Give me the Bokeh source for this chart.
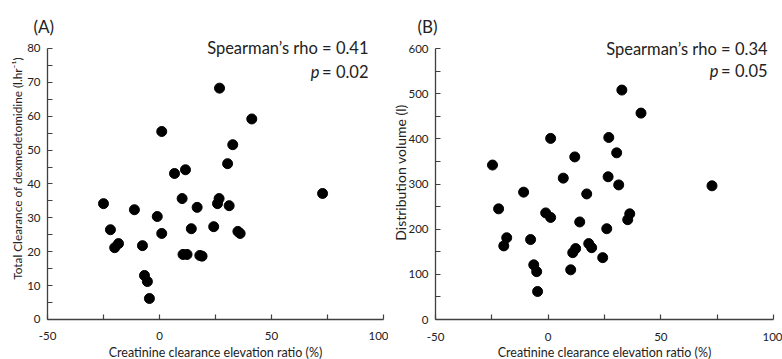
from math import pi
from bokeh.plotting import figure
from bokeh.models import Range1d, FixedTicker, Label
from bokeh.layouts import row
from bokeh.embed import file_html
from bokeh.resources import INLINE

FONT = "Lato"

# ---- Panel A data: creatinine clearance elevation ratio (%) vs total clearance (l/hr)
ccr_elevation_a = [-25.0, -21.9, -20.0, -18.3, -11.2, -7.6, -6.7, -5.4, -4.5, -1.0, 1.0,
                   6.7, 11.6, 1.0, 10.1, 10.5, 12.3, 14.2, 16.8, 18.0, 19.0, 24.2,
                   25.9, 26.6, 26.8, 31.1, 30.4, 32.7, 35.0, 36.0, 41.2, 72.8]
total_clearance = [34.2, 26.5, 21.2, 22.4, 32.4, 21.8, 13.0, 11.2, 6.2, 30.4, 25.4,
                   43.1, 44.2, 55.5, 35.7, 19.2, 19.2, 26.8, 33.1, 18.9, 18.7, 27.4,
                   34.2, 35.7, 68.3, 33.6, 46.0, 51.6, 26.0, 25.4, 59.2, 37.2]

# ---- Panel B data: creatinine clearance elevation ratio (%) vs distribution volume (l)
ccr_elevation_b = [-24.7, -22.0, -19.7, -18.4, -10.9, -7.8, -6.4, -5.1, -4.7, -1.1, 1.1,
                   6.7, 10.0, 10.9, 12.2, 14.0, 17.1, 18.0, 19.3, 24.2, 26.0, 26.6,
                   31.3, 35.3, 36.2, 72.7, 1.1, 11.8, 32.7, 41.2, 26.9, 30.4]
distribution_volume = [342, 245, 163, 181, 282, 177, 121, 106, 62, 236, 226,
                       313, 110, 148, 157, 216, 278, 168, 159, 137, 201, 316,
                       298, 221, 234, 296, 401, 360, 508, 457, 403, 369]

# ---- Axes / ticks
x_bounds = (-50, 100)
x_major_ticks = [-50, 0, 50, 100]
x_minor_ticks = [-25, 25, 75]
x_tick_labels = ["-50", "0", "50", "100"]
a_y_bounds = (0, 80)
a_y_major_ticks = [0, 10, 20, 30, 40, 50, 60, 70, 80]
a_y_minor_ticks = [5, 15, 25, 35, 45, 55, 65, 75]
b_y_bounds = (0, 600)
b_y_major_ticks = [0, 100, 200, 300, 400, 500, 600]
b_y_minor_ticks = [50, 150, 250, 350, 450, 550]

x_title = "Creatinine clearance elevation ratio (%)"
a_y_title = "Total Clearance of dexmedetomidine (l.hr\u207b\u00b9)"
b_y_title = "Distribution volume (l)"
a_letter, b_letter = "(A)", "(B)"
a_rho, a_p = "Spearman\u2019s rho = 0.41", "= 0.02"
b_rho, b_p = "Spearman\u2019s rho = 0.34", "= 0.05"

AX = "#404040"
TXT = "#222222"


def make_panel(x, y, x_rng, y_rng, y_bounds, y_major, y_minor, y_title, ytitle_size,
               letter, rho, ptxt, width, ytitle_pos, letter_pos, stat_pos):
    p = figure(width=width, height=359, output_backend="svg", toolbar_location=None,
               x_range=Range1d(*x_rng), y_range=Range1d(*y_rng), min_border=0)
    p.outline_line_color = None
    p.grid.visible = False
    p.background_fill_color = "white"
    p.border_fill_color = "white"

    p.xaxis.fixed_location = y_bounds[0]
    p.yaxis.fixed_location = x_bounds[0]
    p.xaxis.bounds = x_bounds
    p.yaxis.bounds = y_bounds
    p.xaxis.ticker = FixedTicker(ticks=x_major_ticks, minor_ticks=x_minor_ticks)
    p.xaxis.major_label_overrides = {t: s for t, s in zip(x_major_ticks, x_tick_labels)}
    p.yaxis.ticker = FixedTicker(ticks=y_major, minor_ticks=y_minor)
    p.yaxis.major_label_overrides = {t: str(t) for t in y_major}

    for ax in (p.xaxis, p.yaxis):
        ax.axis_line_color = AX
        ax.axis_line_width = 1.3
        ax.major_tick_line_color = AX
        ax.minor_tick_line_color = AX
        ax.major_tick_line_width = 1.2
        ax.minor_tick_line_width = 1.2
        ax.major_tick_in = 5
        ax.major_tick_out = 0
        ax.minor_tick_in = 5
        ax.minor_tick_out = 0
        ax.major_label_text_font = FONT
        ax.major_label_text_font_size = "11.5px"
        ax.major_label_text_color = TXT
    p.yaxis.major_label_standoff = 7
    p.xaxis.major_label_standoff = 13

    p.xaxis.axis_label = x_title
    p.xaxis.axis_label_text_font = FONT
    p.xaxis.axis_label_text_font_size = "12.5px"
    p.xaxis.axis_label_text_font_style = "normal"
    p.xaxis.axis_label_text_color = TXT
    p.xaxis.axis_label_standoff = 1

    p.scatter(x, y, size=10, color="black", marker="circle")

    p.add_layout(Label(x=ytitle_pos[0], y=ytitle_pos[1], text=y_title, angle=pi / 2,
                       text_align="center", text_baseline="middle",
                       text_font=FONT, text_font_size=ytitle_size, text_color=TXT))
    p.add_layout(Label(x=letter_pos[0], y=letter_pos[1], text=letter,
                       text_align="left", text_baseline="middle",
                       text_font=FONT, text_font_size="17px", text_color=TXT))
    p.add_layout(Label(x=stat_pos[0], y=stat_pos[1], text=rho,
                       text_align="right", text_baseline="middle",
                       text_font=FONT, text_font_size="16.5px", text_color=TXT))
    p.add_layout(Label(x=stat_pos[0], y=stat_pos[2], text=ptxt,
                       text_align="right", text_baseline="middle",
                       text_font=FONT, text_font_size="16.5px", text_color=TXT))
    p.add_layout(Label(x=stat_pos[0], y=stat_pos[2], text="p", x_offset=-49,
                       text_align="right", text_baseline="middle",
                       text_font=FONT, text_font_size="16.5px", text_font_style="italic",
                       text_color=TXT))
    return p


pa = make_panel(ccr_elevation_a, total_clearance, (-70.98, 102.23), (-11.81, 94.17),
                a_y_bounds, a_y_major_ticks, a_y_minor_ticks,
                a_y_title, "11.8px", a_letter, a_rho, a_p, width=388,
                ytitle_pos=(-63.39, 44.58), letter_pos=(-56.25, 86.49),
                stat_pos=(93.30, 80.0, 73.21))
pb = make_panel(ccr_elevation_b, distribution_volume, (-70.86, 103.99), (-88.56, 706.3),
                b_y_bounds, b_y_major_ticks, b_y_minor_ticks,
                b_y_title, "14px", b_letter, b_rho, b_p, width=394,
                ytitle_pos=(-65.53, 325.4), letter_pos=(-57.99, 648.7),
                stat_pos=(97.34, 600.0, 549.1))

layout = row(pa, pb)
open("out.html", "w").write(file_html(layout, INLINE))
